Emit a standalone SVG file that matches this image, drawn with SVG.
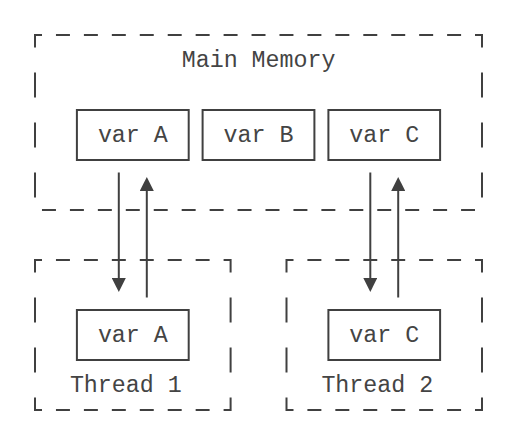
<svg xmlns="http://www.w3.org/2000/svg" width="525" height="439" viewBox="0 0 525 439">
  <style>
    .frame { fill: none; stroke: #404040; stroke-width: 2; stroke-linecap: butt; stroke-linejoin: miter; }
    .dh { fill: none; stroke: #404040; stroke-width: 2; stroke-dasharray: 13.97 13.97; }
    .dv { fill: none; stroke: #404040; stroke-width: 2; stroke-dasharray: 25 25; }
    .box { fill: none; stroke: #404040; stroke-width: 2; }
    .conn { fill: none; stroke: #404040; stroke-width: 2; }
    text { font-family: "Liberation Mono", "Courier New", monospace; font-size: 23.3px; fill: #444; }
  </style>
  <defs>
    <marker id="arrow" markerUnits="userSpaceOnUse" markerWidth="14" markerHeight="14" viewBox="0 0 13 13" refX="0" refY="6.5" orient="auto">
      <path d="M0,0 L13,6.5 L0,13 z" fill="#404040"/>
    </marker>
  </defs>

  <g id="main-memory">
    <path class="frame" d="M35,47.5 V35 H42"/>
    <path class="dh" d="M55.96,35 H461.1"/>
    <path class="frame" d="M475,35 H482 V47.5"/>
    <path class="dv" d="M35,72.5 V197.5"/>
    <path class="dv" d="M482,72.5 V197.5"/>
    <path class="dh" d="M41.98,210 H475"/>
    <text x="181.7" y="67">Main Memory</text>
  </g>

  <g id="mm-var-a">
    <rect class="box" x="76.9" y="110" width="111.8" height="50"/>
    <text x="97.9" y="141.5">var A</text>
  </g>
  <g id="mm-var-b">
    <rect class="box" x="202.6" y="110" width="111.8" height="50"/>
    <text x="223.6" y="141.5">var B</text>
  </g>
  <g id="mm-var-c">
    <rect class="box" x="328.4" y="110" width="111.7" height="50"/>
    <text x="349.3" y="141.5">var C</text>
  </g>

  <g id="thread-1">
    <path class="frame" d="M35,272.5 V260 H42"/>
    <path class="dh" d="M55.96,260 H209.6"/>
    <path class="frame" d="M223.6,260 H230.6 V272.5"/>
    <path class="dv" d="M35,297.5 V372.5"/>
    <path class="dv" d="M230.6,297.5 V372.5"/>
    <path class="frame" d="M35,397.5 V410 H42"/>
    <path class="dh" d="M55.96,410 H209.6"/>
    <path class="frame" d="M223.6,410 H230.6 V397.5"/>
    <text x="69.9" y="391.5">Thread 1</text>
  </g>
  <g id="t1-var-a">
    <rect class="box" x="76.9" y="310" width="111.8" height="50"/>
    <text x="97.9" y="341.5">var A</text>
  </g>

  <g id="thread-2">
    <path class="frame" d="M286.5,272.5 V260 H293.5"/>
    <path class="dh" d="M307.4,260 H461.1"/>
    <path class="frame" d="M475,260 H482 V272.5"/>
    <path class="dv" d="M286.5,297.5 V372.5"/>
    <path class="dv" d="M482,297.5 V372.5"/>
    <path class="frame" d="M286.5,397.5 V410 H293.5"/>
    <path class="dh" d="M307.4,410 H461.1"/>
    <path class="frame" d="M475,410 H482 V397.5"/>
    <text x="321.4" y="391.5">Thread 2</text>
  </g>
  <g id="t2-var-c">
    <rect class="box" x="328.4" y="310" width="111.7" height="50"/>
    <text x="349.3" y="341.5">var C</text>
  </g>

  <g id="connectors">
    <line class="conn" x1="118.8" y1="172.5" x2="118.8" y2="278" marker-end="url(#arrow)"/>
    <line class="conn" x1="146.8" y1="297.5" x2="146.8" y2="191" marker-end="url(#arrow)"/>
    <line class="conn" x1="370.3" y1="172.5" x2="370.3" y2="278" marker-end="url(#arrow)"/>
    <line class="conn" x1="398.2" y1="297.5" x2="398.2" y2="191" marker-end="url(#arrow)"/>
  </g>
</svg>
